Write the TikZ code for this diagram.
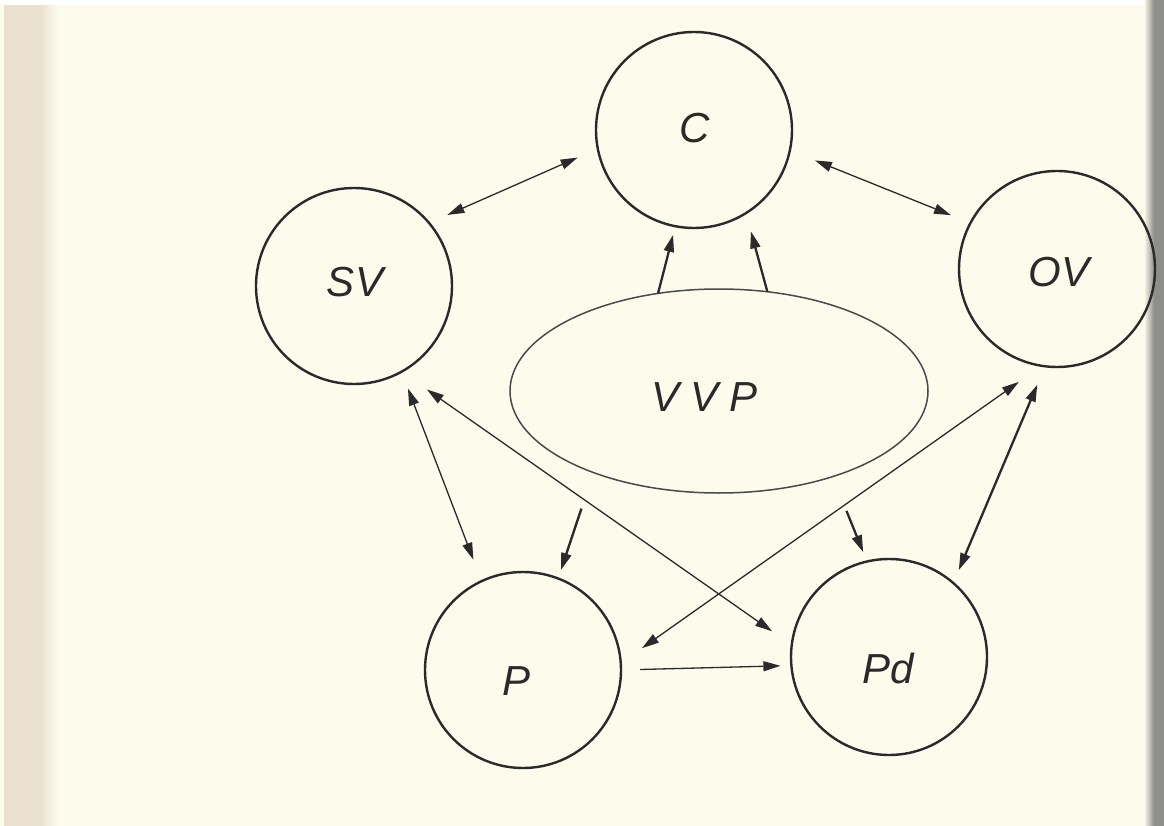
\documentclass[tikz,border=0pt]{standalone}
\usepackage{fontspec}
\setmainfont{Liberation Sans}
\usetikzlibrary{arrows.meta,shapes.geometric}

\definecolor{paper}{HTML}{FCFBEC}
\definecolor{ink}{HTML}{2A2A2A}
\definecolor{gutter}{HTML}{E9E0CF}
\definecolor{edge}{HTML}{8E8E8A}

\begin{document}
\begin{tikzpicture}[x=1pt,y=-1pt,
  >={Triangle[length=17pt,width=10pt]},
  state/.style={circle,draw=ink,line width=2.4pt,minimum size=196pt,inner sep=0pt,outer sep=0pt},
  core/.style={ellipse,draw=ink!85,line width=1.5pt,minimum width=418pt,minimum height=204pt,inner sep=0pt,outer sep=0pt},
  lbl/.style={font=\itshape\fontsize{42}{42}\selectfont,text=ink,inner sep=0pt},
  link/.style={draw=ink,line width=1.3pt},
  heavy/.style={draw=ink,line width=2.3pt},
]
% page
\useasboundingbox (0,0) rectangle (1164,826);
\fill[paper] (0,0) rectangle (1164,826);
\fill[gutter] (4,0) rectangle (40,826);
\shade[left color=gutter,right color=paper] (40,0) rectangle (58,826);
\fill[white] (0,0) rectangle (1164,5);
\shade[left color=paper,right color=edge] (1144,0) rectangle (1154,826);
\fill[edge] (1154,0) rectangle (1164,826);

% states
\node[state] (c)  at (694,130) {};
\node[state] (sv) at (354,286) {};
\node[state] (ov) at (1057,269) {};
\node[state] (p)  at (523,670) {};
\node[state] (pd) at (889,657) {};
\node[core]  (vvp) at (719,391) {};

% labels
\node[lbl] (ct)   at (695,128) {C};
\node[lbl] (svt)  at (355,282) {SV};
\node[lbl] (ovt)  at (1059,272) {OV};
\node[lbl] (pt)   at (517,681) {P};
\node[lbl] (pdt)  at (888,668) {Pd};
\node[lbl] (vvpt) at (705,397) {V\hspace{11pt}V\hspace{11pt}P};

% two-way links
\draw[link,<->,shorten <=20pt,shorten >=22pt] (sv.40) -- (c.191);
\draw[link,<->,shorten <=27pt,shorten >=21pt] (c.-12.7) -- (ov.152.4);
\draw[link,<->,shorten <=18pt,shorten >=23pt] (sv.299) -- (p.115.3);
\draw[link,<->,shorten <=31pt,shorten >=24pt] (sv.299.3) -- (pd.173.4);
\draw[link,<->,shorten <=26pt,shorten >=28pt] (p.4.7) -- (ov.261.7);
\draw[heavy,<->,shorten <=20pt,shorten >=14pt] (ov.263) -- (pd.49.8);

% one-way links
\draw[heavy,->,shorten >=9pt] (vvp.122) -- (c.259);
\draw[heavy,->,shorten >=19pt] (vvp.64) -- (c.302);
\draw[heavy,->,shorten <=38pt,shorten >=9pt] (vvp.213.3) -- (p.69);
\draw[heavy,->,shorten <=37pt,shorten >=10pt] (vvp.323.5) -- (pd.103.8);
\draw[link,->,shorten <=19pt,shorten >=11pt] (p.-0.5) -- (pd.185.3);
\end{tikzpicture}
\end{document}
